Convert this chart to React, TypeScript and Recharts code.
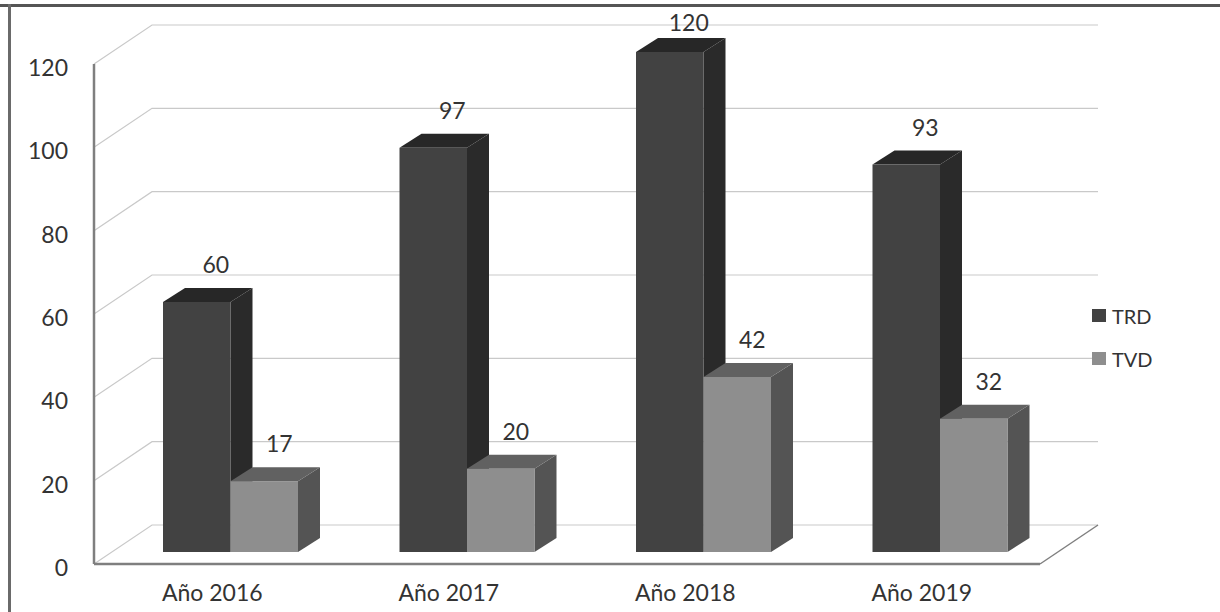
import { Bar, BarChart, CartesianGrid, LabelList, Legend, XAxis, YAxis } from "recharts"

const years = ["Año 2016", "Año 2017", "Año 2018", "Año 2019"]
const trd = [60, 97, 120, 93]
const tvd = [17, 20, 42, 32]
const yTicks = [0, 20, 40, 60, 80, 100, 120]

const rows = years.map((year, i) => ({ year, TRD: trd[i], TVD: tvd[i] }))

const FONT = "Lato, sans-serif"
const TEXT = "#333333"
const AXIS = "#7f7f7f"
const GRID = "#c9c9c9"

// Excel-style fake 3D: how far the floor and the back wall sit from the axes
const WALL_X = 58
const WALL_Y = 39
// bars stand a bit inside the floor, and have this much visible depth
const BAR_SHIFT_X = 18
const BAR_SHIFT_Y = 12
const DEPTH_X = 22
const DEPTH_Y = 14

const SHADES: Record<string, { front: string; top: string; side: string }> = {
    TRD: { front: "#424242", top: "#272727", side: "#2a2a2a" },
    TVD: { front: "#8e8e8e", top: "#616161", side: "#545454" },
}

function Cuboid({ x, y, width, height, dataKey }: any) {
    const c = SHADES[dataKey]
    const l = x + BAR_SHIFT_X
    const r = l + width
    const t = y - BAR_SHIFT_Y
    const b = t + height
    return (
        <g>
            <polygon
                points={`${r},${t} ${r + DEPTH_X},${t - DEPTH_Y} ${r + DEPTH_X},${b - DEPTH_Y} ${r},${b}`}
                fill={c.side}
            />
            <polygon
                points={`${l},${t} ${l + DEPTH_X},${t - DEPTH_Y} ${r + DEPTH_X},${t - DEPTH_Y} ${r},${t}`}
                fill={c.top}
            />
            <rect x={l} y={t} width={width} height={height} fill={c.front} />
        </g>
    )
}

// Each grid value becomes a line on the back wall plus a diagonal down to the y axis
function WallLine({ x1, x2, y1, index }: any) {
    const backY = y1 - WALL_Y
    return (
        <g>
            <polyline
                points={`${x1},${y1} ${x1 + WALL_X},${backY} ${x2 + WALL_X},${backY}`}
                fill="none"
                stroke={GRID}
                strokeWidth={1.2}
            />
            {index === 0 && (
                <line x1={x2} y1={y1} x2={x2 + WALL_X} y2={backY} stroke={AXIS} strokeWidth={1.5} />
            )}
        </g>
    )
}

function ValueLabel({ x, y, width, value, shiftX }: any) {
    return (
        <text
            // the tallest bar's label is pushed back under the frame
            x={x + width / 2 + BAR_SHIFT_X + shiftX}
            y={Math.max(y - 41, 31)}
            textAnchor="middle"
            fontFamily={FONT}
            fontSize={23}
            fill={TEXT}
        >
            {value}
        </text>
    )
}

function LegendBox({ payload }: any) {
    return (
        <div style={{ fontFamily: FONT, fontSize: 20, color: TEXT }}>
            {payload.map((item: any) => (
                <div key={item.value} style={{ display: "flex", alignItems: "center", height: 43 }}>
                    <span style={{ width: 14, height: 13, marginRight: 6, background: SHADES[item.value].front }} />
                    {item.value}
                </div>
            ))}
        </div>
    )
}

export default function App() {
    return (
        <div style={{ position: "absolute", left: 0, top: 0, width: 1220, height: 612, background: "#ffffff" }}>
            <div style={{ position: "absolute", left: 0, right: 0, top: 4, height: 3, background: "#555555" }} />
            <div style={{ position: "absolute", left: 8, top: 4, bottom: 0, width: 3, background: "#6a6a6a" }} />
            <BarChart
                width={1220}
                height={612}
                data={rows}
                barSize={67.5}
                barGap={0}
                margin={{ top: 64, right: 180, bottom: 0, left: 0 }}
            >
                <CartesianGrid vertical={false} horizontal={(props: any) => <WallLine key={props.index} {...props} />} />
                <XAxis
                    dataKey="year"
                    tickLine={false}
                    axisLine={{ stroke: AXIS, strokeWidth: 2.5 }}
                    tick={{ fontFamily: FONT, fontSize: 23, fill: TEXT }}
                    tickMargin={15}
                    height={48}
                />
                <YAxis
                    domain={[0, 120]}
                    ticks={yTicks}
                    width={94}
                    tickLine={false}
                    axisLine={{ stroke: AXIS, strokeWidth: 2.5 }}
                    tick={{ fontFamily: FONT, fontSize: 23, fill: TEXT, dy: 4 }}
                    tickMargin={20}
                />
                <Legend
                    layout="vertical"
                    align="center"
                    verticalAlign="middle"
                    content={<LegendBox />}
                    wrapperStyle={{ left: 1092, top: 294, width: 80 }}
                />
                <Bar dataKey="TRD" fill={SHADES.TRD.front} shape={<Cuboid dataKey="TRD" />} isAnimationActive={false}>
                    <LabelList dataKey="TRD" content={<ValueLabel shiftX={19} />} />
                </Bar>
                <Bar dataKey="TVD" fill={SHADES.TVD.front} shape={<Cuboid dataKey="TVD" />} isAnimationActive={false}>
                    <LabelList dataKey="TVD" content={<ValueLabel shiftX={15} />} />
                </Bar>
            </BarChart>
        </div>
    )
}
